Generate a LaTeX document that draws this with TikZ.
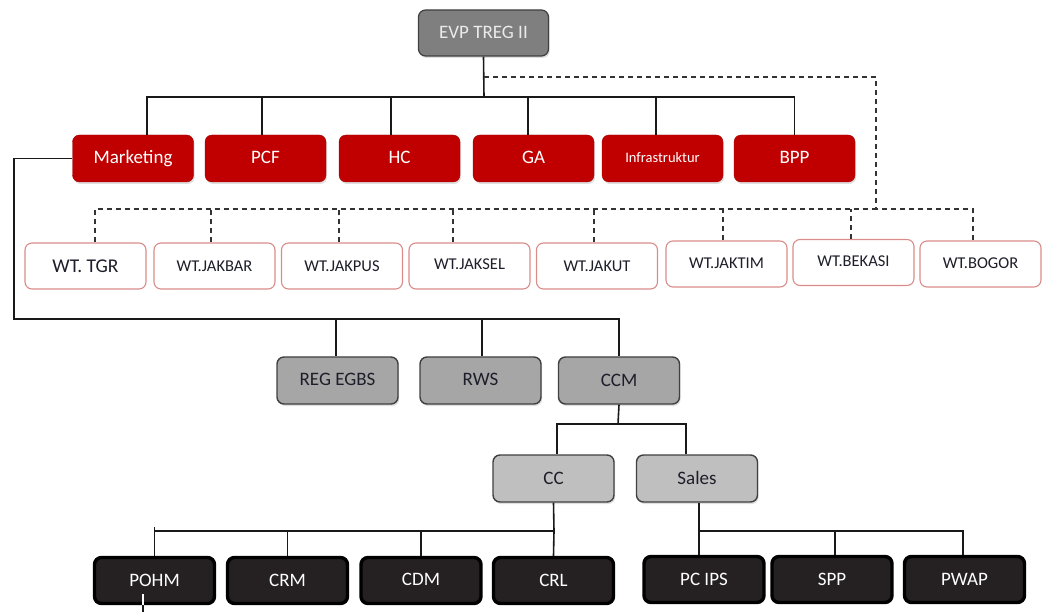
\documentclass[tikz,border=0pt]{standalone}
\usepackage{fontspec}
\setmainfont{Carlito}
\usetikzlibrary{shadows,calc}
\definecolor{tred}{HTML}{C00000}
\definecolor{evpgray}{HTML}{7F7F7F}
\definecolor{midgray}{HTML}{A6A6A6}
\definecolor{lightgray2}{HTML}{BFBFBF}
\definecolor{blackbox}{HTML}{252021}
\definecolor{wtborder}{HTML}{D98C8A}
\definecolor{darktext}{HTML}{1E1E2A}
\begin{document}
\begin{tikzpicture}[x=1pt,y=-1pt,
  box/.style={rounded corners=7pt, minimum width=121pt, minimum height=47pt, inner sep=0pt, font=\fontsize{19}{21}\selectfont},
  shad/.style={drop shadow={shadow xshift=1.2pt, shadow yshift=-2pt, opacity=0.25}},
  evpbox/.style={box, minimum width=130pt, minimum height=46pt, fill=evpgray, draw=black!75, line width=1.2pt, text=black!8, shad},
  redbox/.style={box, fill=tred, draw=tred!85!black, line width=0.4pt, text=white, shad},
  wtbox/.style={box, minimum height=46pt, fill=white, draw=wtborder, line width=1.1pt, text=darktext, font=\fontsize{16.5}{18}\selectfont},
  graybox/.style={box, fill=midgray, draw=black!75, line width=1.4pt, text=darktext, shad},
  lgraybox/.style={graybox, fill=lightgray2},
  blkbox/.style={box, minimum width=120pt, minimum height=46pt, fill=blackbox, draw=black, line width=3.4pt, text=white},
  conn/.style={draw=black!90, line width=1.6pt},
  dashline/.style={draw=black!80, line width=1.5pt, dash pattern=on 5pt off 4pt}
]
\useasboundingbox (0,0) rectangle (1042,612);

% top
\node[evpbox] (evp) at (483.5,33) {\raisebox{2pt}{EVP TREG II}};

% red row
\node[redbox] (mkt) at (133,158.5) {\raisebox{2pt}{Marketing}};
\node[redbox] (pcf) at (265.5,158.5) {\raisebox{2pt}{PCF}};
\node[redbox] (hc) at (399.5,158.5) {\raisebox{2pt}{HC}};
\node[redbox] (ga) at (533.5,158.5) {\raisebox{2pt}{GA}};
\node[redbox, font=\fontsize{14.5}{16}\selectfont] (infra) at (662.5,158.5) {\raisebox{2pt}{Infrastruktur}};
\node[redbox] (bpp) at (794.5,158.5) {\raisebox{2pt}{BPP}};

% WT row
\node[wtbox, font=\fontsize{19.5}{21}\selectfont] (tgr) at (85.5,266) {WT. TGR};
\node[wtbox] (jakbar) at (214.5,266) {WT.JAKBAR};
\node[wtbox] (jakpus) at (342,266) {WT.JAKPUS};
\node[wtbox] (jaksel) at (469.5,266) {\raisebox{3pt}{WT.JAKSEL}};
\node[wtbox] (jakut) at (597,266) {WT.JAKUT};
\node[wtbox] (jaktim) at (726.5,264) {\raisebox{2pt}{WT.JAKTIM}};
\node[wtbox] (bekasi) at (853.5,262.5) {\raisebox{2pt}{WT.BEKASI}};
\node[wtbox] (bogor) at (980.5,264) {\raisebox{2pt}{WT.BOGOR}};

% gray row
\node[graybox] (reg) at (337.5,380.5) {\raisebox{2pt}{REG EGBS}};
\node[graybox] (rws) at (480.5,380.5) {\raisebox{2pt}{RWS}};
\node[graybox] (ccm) at (619,380.5) {CCM};
\node[lgraybox] (cc) at (553.5,478.5) {\raisebox{1pt}{CC}};
\node[lgraybox] (sales) at (697,478.5) {\raisebox{1pt}{Sales}};

% black row
\node[blkbox] (pohm) at (154.5,580.5) {POHM};
\node[blkbox] (crm) at (287.5,580.5) {CRM};
\node[blkbox] (cdm) at (421,580.5) {\raisebox{2pt}{CDM}};
\node[blkbox] (crl) at (553.5,580.5) {CRL};
\node[blkbox] (pcips) at (704,579.5) {PC IPS};
\node[blkbox] (spp) at (832,579.5) {SPP};
\node[blkbox] (pwap) at (964.5,579.5) {PWAP};

% bus coordinates
\coordinate (bus1) at (484,97);
\coordinate (d1) at (484,77);
\coordinate (d2) at (876,77);
\coordinate (d3) at (876,209);
\coordinate (mk1) at (14,319);
\coordinate (b2) at (618,424);
\coordinate (b3) at (554,531);
\coordinate (b4) at (699,531);
\coordinate (pe) at (143,612);

% EVP to red row
\draw[conn] (evp.south) -- (bus1);
\draw[conn] ([xshift=14pt]mkt.north) |- (bus1 -| bpp.north) -- (bpp.north);
\draw[conn] ([xshift=-3.5pt]pcf.north) -- ([xshift=-3.5pt]pcf.north |- bus1);
\draw[conn] ([xshift=-8.5pt]hc.north) -- ([xshift=-8.5pt]hc.north |- bus1);
\draw[conn] ([xshift=-5.5pt]ga.north) -- ([xshift=-5.5pt]ga.north |- bus1);
\draw[conn] ([xshift=-6.5pt]infra.north) -- ([xshift=-6.5pt]infra.north |- bus1);

% dashed to WT row
\draw[dashline] (d1) -- (d2) -- (d3);
\draw[dashline] ([xshift=9.5pt]tgr.north) |- (d3);
\draw[dashline] ([xshift=-7.5pt]bogor.north) |- (d3);
\draw[dashline] ([xshift=-3.5pt]jakbar.north) -- ([xshift=-3.5pt]jakbar.north |- d3);
\draw[dashline] ([xshift=-3pt]jakpus.north) -- ([xshift=-3pt]jakpus.north |- d3);
\draw[dashline] ([xshift=-16.5pt]jaksel.north) -- ([xshift=-16.5pt]jaksel.north |- d3);
\draw[dashline] ([xshift=-3pt]jakut.north) -- ([xshift=-3pt]jakut.north |- d3);
\draw[dashline] ([xshift=-3.5pt]jaktim.north) -- ([xshift=-3.5pt]jaktim.north |- d3);
\draw[dashline] ([xshift=-2.5pt]bekasi.north) -- ([xshift=-2.5pt]bekasi.north |- d3);

% Marketing to gray row
\draw[conn] (mkt.west) -| (mk1) -- (mk1 -| ccm.north) -- (ccm.north);
\draw[conn] ([xshift=-1.5pt]reg.north) -- ([xshift=-1.5pt]reg.north |- mk1);
\draw[conn] ([xshift=1.5pt]rws.north) -- ([xshift=1.5pt]rws.north |- mk1);

% CCM to CC / Sales
\draw[conn] (ccm.south) -- (b2);
\draw[conn] ([xshift=3.5pt]cc.north) |- ([xshift=-11pt]b2 -| sales.north) -- ([xshift=-11pt]sales.north);

% CC to black row
\draw[conn] (cc.south) -- (b3);
\draw[conn] (pohm.north) |- (b3);
\draw[conn] ([yshift=4pt]pohm.north |- b3) -- (pohm.north |- b3);
\draw[conn] (crm.north) -- (crm.north |- b3);
\draw[conn] (cdm.north) -- (cdm.north |- b3);
\draw[conn] (crl.north) -- (b3);

% Sales to black row
\draw[conn] ([xshift=2pt]sales.south) -- (b4);
\draw[conn] ([xshift=-5pt]pcips.north) |- ([xshift=-1.5pt]b4 -| pwap.north) -- ([xshift=-1.5pt]pwap.north);
\draw[conn] ([xshift=3pt]spp.north) -- ([xshift=3pt]spp.north |- b4);

% line out of POHM
\draw[white, line width=1.2pt] ([xshift=-11.5pt,yshift=11pt]pohm.south) -- ([xshift=-11.5pt]pohm.south);
\draw[conn] ([xshift=-11.5pt]pohm.south) -- (pe);
\end{tikzpicture}
\end{document}
